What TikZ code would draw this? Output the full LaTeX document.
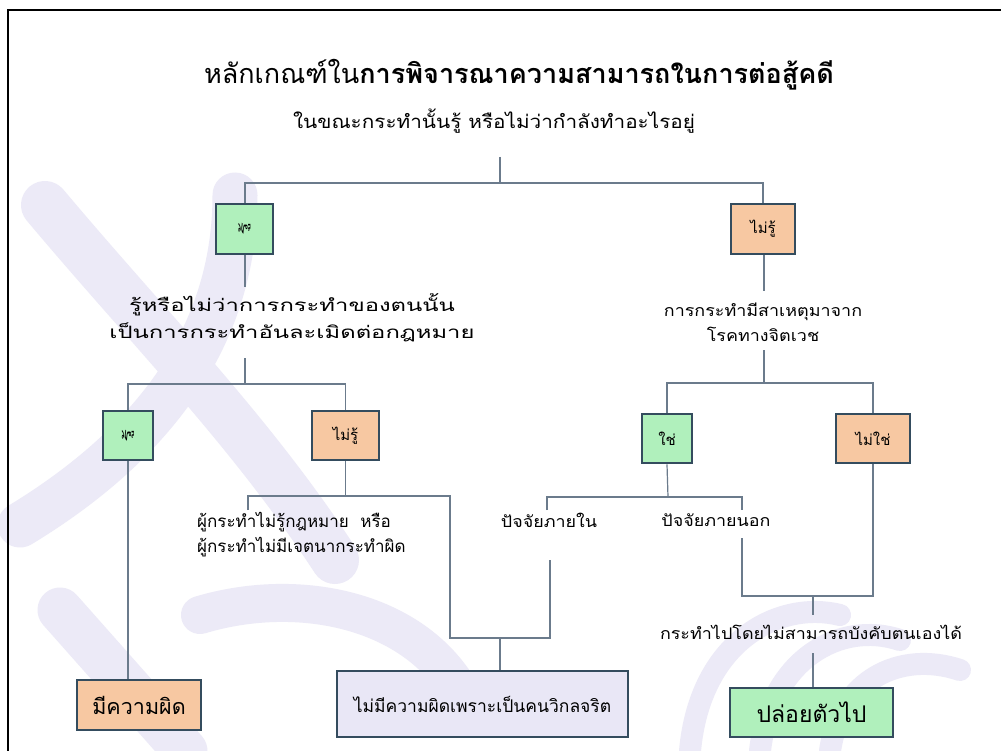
\documentclass[tikz,border=0pt]{standalone}
\usepackage{fontspec}
\newfontfamily\thai[Script=Thai]{Loma}
\newfontfamily\thaiw[Script=Thai,FakeStretch=1.12]{Loma}
\newfontfamily\thaiww[Script=Thai,FakeStretch=1.4]{Loma}
\newfontfamily\thaiv[Script=Thai,FakeStretch=2.2]{Loma}
\definecolor{linec}{HTML}{6B7B8C}
\definecolor{boxc}{HTML}{344C5E}
\definecolor{gfill}{HTML}{B0F0BC}
\definecolor{pfill}{HTML}{F7C8A2}
\definecolor{lfill}{HTML}{E9E7F6}
\definecolor{wm}{HTML}{ECEAF7}
\begin{document}
\begin{tikzpicture}[x=1pt,y=-1pt,
  ln/.style={draw=linec, line width=1.2pt},
  bx/.style={draw=boxc, line width=2.8pt, inner sep=0pt, font=\thai\fontsize{15}{18}\selectfont},
  gbox/.style={bx, fill=gfill},
  pbox/.style={bx, fill=pfill},
  lbox/.style={bx, fill=lfill},
  vtext/.style={rotate=90, inner sep=0pt, font=\thaiv\fontsize{11}{12}\selectfont},
  wmark/.style={draw=wm, line cap=round},
  lbl/.style={font=\thaiw\fontsize{16}{25}\selectfont, inner sep=0pt, align=center}]
\useasboundingbox (0,0) rectangle (1001,751);
\fill[white] (0,0) rectangle (1001,751);
% faint watermark
\draw[wmark, line width=48pt] (45,205) .. controls (150,330) and (250,430) .. (335,560);
\draw[wmark, line width=45pt] (235,195) .. controls (235,330) and (160,440) .. (20,525);
\draw[wmark, line width=45pt] (60,610) -- (185,751);
\draw[wmark, line width=38pt] (200,615) .. controls (300,585) and (420,610) .. (465,700);
\draw[wmark, line width=22pt] (690,751) .. controls (700,640) and (780,600) .. (840,615);
\draw[wmark, line width=22pt] (760,751) .. controls (770,660) and (840,620) .. (900,640);
\draw[wmark, line width=22pt] (830,751) .. controls (840,680) and (900,650) .. (960,670);
\draw[black, line width=2.5pt] (8,751) -- (8,10) -- (1001,10);

% titles
\node[font=\thai\fontsize{27}{30}\selectfont, anchor=base, inner sep=0pt] (title) at (519,84)
  {หลักเกณฑ์ใน\textbf{การพิจารณาความสามารถในการต่อสู้คดี}};
\node[font=\thaiw\fontsize{18.5}{22}\selectfont, anchor=base, inner sep=0pt] (sub) at (494,129)
  {ในขณะกระทำนั้นรู้ หรือไม่ว่ากำลังทำอะไรอยู่};

% level 1 boxes
\node[gbox, minimum width=57pt, minimum height=50pt] (r1) at (244.5,229) {};
\node[vtext] (r1t) at (r1.center) {รู้};
\node[pbox, minimum width=64pt, minimum height=50pt] (nr1) at (763,229) {ไม่รู้};

% level 1 texts
\node[lbl, font=\thaiww\fontsize{17}{27}\selectfont] (lt) at (292,318) {รู้หรือไม่ว่าการกระทำของตนนั้น\\เป็นการกระทำอันละเมิดต่อกฎหมาย};
\node[lbl] (rt) at (763,322) {การกระทำมีสาเหตุมาจาก\\โรคทางจิตเวช};

% level 2 boxes
\node[gbox, minimum width=50pt, minimum height=49pt] (r2) at (128,435.5) {};
\node[vtext] (r2t) at (r2.center) {รู้};
\node[pbox, minimum width=67pt, minimum height=49pt] (nr2) at (345.5,435.5) {ไม่รู้};
\node[gbox, minimum width=50pt, minimum height=49pt] (yes) at (667,438.5) {ใช่};
\node[pbox, minimum width=74pt, minimum height=49pt] (no) at (873,438.5) {ไม่ใช่};

% level 2 texts
\node[lbl, align=left, anchor=west, font=\thai\fontsize{17}{25}\selectfont] (lt2) at (197,535) {ผู้กระทำไม่รู้กฎหมาย\ \ หรือ\\ผู้กระทำไม่มีเจตนากระทำผิด};
\node[lbl] (pin) at (549,520) {ปัจจัยภายใน};
\node[lbl] (pout) at (716,520) {ปัจจัยภายนอก};
\node[lbl] (act) at (811,632) {กระทำไปโดยไม่สามารถบังคับตนเองได้};

% results
\node[pbox, minimum width=124pt, minimum height=50pt, font=\thai\fontsize{21.5}{26}\selectfont] (guilty) at (139,705) {มีความผิด};
\node[lbox, minimum width=291pt, minimum height=66pt, font=\thai\fontsize{17.5}{20}\selectfont] (inn) at (482.5,704) {ไม่มีความผิดเพราะเป็นคนวิกลจริต};
\node[gbox, minimum width=163pt, minimum height=49pt, font=\thai\fontsize{23}{28}\selectfont] (rel) at (811.5,712.5) {ปล่อยตัวไป};

% junctions and free ends
\coordinate (j0) at (500,183);
\coordinate (t0) at (500,157);
\coordinate (t1) at (245,287);
\coordinate (t1b) at (245,358);
\coordinate (j1) at (245,384);
\coordinate (j2) at (346,496);
\coordinate (j2a) at (248,496);
\coordinate (j2b) at (450,496);
\coordinate (t2) at (248,510);
\coordinate (j3) at (500,638);
\coordinate (j3r) at (550,638);
\coordinate (t3) at (550,560);
\coordinate (k1) at (764,383);
\coordinate (t4) at (764,291);
\coordinate (t4b) at (764,350);
\coordinate (k2) at (668,497);
\coordinate (k2a) at (547,497);
\coordinate (k2b) at (742,497);
\coordinate (t5a) at (547,510);
\coordinate (t5b) at (742,510);
\coordinate (t6) at (742,538);
\coordinate (k3) at (813,596);
\coordinate (t7) at (813,615);
\coordinate (t8) at (813,653);

% connectors
\draw[ln] (t0) -- (j0);
\draw[ln] (r1.north -| j1) |- (j0) -| (nr1.north);
\draw[ln] (r1.south -| j1) -- (t1);
\draw[ln] (t1b) -- (j1);
\draw[ln] (r2.north) |- (j1) -| (nr2.north);
\draw[ln] (nr2.south) -- (nr2.south |- j2);
\draw[ln] (t2) -- (j2a) -- (j2b) |- (j3r) -- (t3);
\draw[ln] (j3) -- (inn.north -| j3);
\draw[ln] (r2.south) -- (r2.south |- guilty.north);
\draw[ln] (nr1.south -| k1) -- (t4);
\draw[ln] (t4b) -- (k1);
\draw[ln] (yes.north) |- (k1) -| (no.north);
\draw[ln] (yes.south) -- (k2);
\draw[ln] (t5a) -- (k2a) -- (k2b) -- (t5b);
\draw[ln] (t6) |- (no.south |- k3) -- (no.south);
\draw[ln] (k3) -- (t7);
\draw[ln] (t8) -- (rel.north -| k3);
\end{tikzpicture}
\end{document}
